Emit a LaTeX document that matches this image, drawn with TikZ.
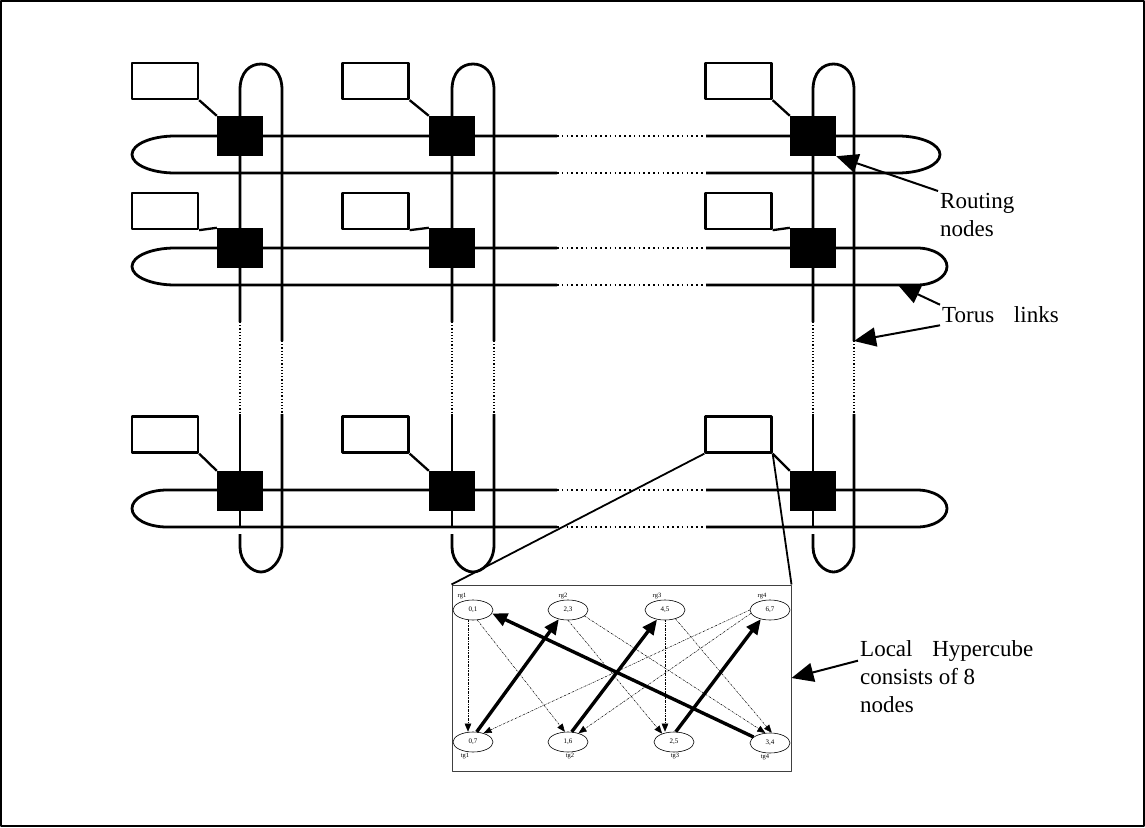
\documentclass[tikz,border=0pt]{standalone}
\usepackage{fontspec}
\setmainfont{Liberation Serif}
\usetikzlibrary{arrows.meta, shapes.geometric}

\tikzset{
  pe/.style={draw, line width=2.3pt, minimum width=66pt, minimum height=36pt, inner sep=0pt},
  router/.style={fill=black, minimum width=46pt, minimum height=40pt, inner sep=0pt},
  link/.style={line width=2.8pt},
  dots/.style={line width=2pt, dash pattern=on 1.6pt off 3.2pt},
  vdots/.style={line width=2pt, dash pattern=on 1.2pt off 2pt},
  hc/.style={ellipse, draw, line width=0.6pt, minimum width=40pt, minimum height=20pt, inner sep=0pt, font=\fontsize{7}{8}\selectfont},
  lab/.style={font=\fontsize{6.5}{7}\selectfont, inner sep=0.4pt},
  strong/.style={line width=3.4pt, -{Triangle[length=15pt,width=13pt]}},
  weak/.style={line width=0.5pt, dash pattern=on 2pt off 1pt on 0.5pt off 1pt, -{Triangle[length=8pt,width=6.5pt]}},
  note/.style={font=\fontsize{23}{28}\selectfont, align=left, inner sep=2pt},
  pointer/.style={line width=2pt, -{Triangle[length=22pt,width=19pt]}}
}

\begin{document}
\begin{tikzpicture}[x=1pt, y=-1pt, line join=round]
\useasboundingbox (0,0) rectangle (1145,827);
\draw[line width=1.5pt] (1,1) rectangle (1144,826);

% horizontal torus rings, each closed by a loop at both ends
\draw[link] (557,136) -- (175,136) arc[start angle=270, end angle=90, x radius=43, y radius=18.5] -- (557,173);
\draw[link] (706,136) -- (898,136) arc[start angle=-90, end angle=90, x radius=42, y radius=18.5] -- (706,173);
\draw[link] (557,248) -- (175,248) arc[start angle=270, end angle=90, x radius=43, y radius=18.5] -- (557,285);
\draw[link] (706,248) -- (917,248) arc[start angle=-90, end angle=90, x radius=30, y radius=18.5] -- (706,285);
\draw[link] (557,490) -- (167,490) arc[start angle=270, end angle=90, x radius=35, y radius=18.5] -- (557,527);
\draw[link] (706,490) -- (917,490) arc[start angle=-90, end angle=90, x radius=30, y radius=18.5] -- (706,527);
\foreach \y in {136,173,248,285,490,527}
  \draw[dots] (557,\y) -- (706,\y);

% vertical torus rings
\foreach \xi/\xm/\xo in {240/261/282, 452/473/494, 813/833.5/854} {
  \draw[link] (\xi,322) -- (\xi,90) .. controls (\xi,72) and (\xi+10,64) .. (\xm,64)
    .. controls (\xo-10,64) and (\xo,72) .. (\xo,90) -- (\xo,341);
  \draw[vdots] (\xi,322) -- (\xi,414);
  \draw[vdots] (\xo,341) -- (\xo,414);
  \draw[link] (\xi,414) -- (\xi,527);
  \draw[link] (\xi,534) -- (\xi,547) .. controls (\xi,562) and (\xm-9,572) .. (\xm,572)
    .. controls (\xm+9,572) and (\xo,562) .. (\xo,545) -- (\xo,414);
}

% routing nodes and their processing elements
\foreach \c/\x in {1/240,2/452,3/813}
  \foreach \r/\y in {1/136,2/248,3/491}
    \node[router] (r\c\r) at (\x,\y) {};
\foreach \c/\x in {1/165,2/375.5,3/738.5}
  \foreach \r/\y in {1/81,2/211,3/434.5}
    \node[pe] (p\c\r) at (\x,\y) {};
\foreach \c in {1,2,3}
  \foreach \r in {1,2,3}
    \draw[line width=2.3pt] (p\c\r.south east) -- (r\c\r.north west);

% local hypercube
\node[draw=black!75, line width=1pt, minimum width=339pt, minimum height=186pt, inner sep=0pt] (cube) at (621.5,678) {};
\draw[line width=1.8pt] (p33.south west) -- (cube.north west);
\draw[line width=1.8pt] (p33.south east) -- (cube.north east);

\node[hc, label={[lab, xshift=-11pt]above:rg1}] (t01) at (473,610) {0,1};
\node[hc, label={[lab, xshift=-5pt]above:rg2}] (t23) at (568,610) {2,3};
\node[hc, label={[lab, xshift=-8pt]above:rg3}] (t45) at (665,610) {4,5};
\node[hc, label={[lab, xshift=-8pt]above:rg4}] (t67) at (770,610) {6,7};
\node[hc, label={[lab, xshift=-8pt]below:tg1}] (b07) at (473,742) {0,7};
\node[hc, label={[lab, xshift=2pt]below:tg2}] (b16) at (568,742) {1,6};
\node[hc, label={[lab, xshift=1pt]below:tg3}] (b25) at (674,742) {2,5};
\node[hc, label={[lab, xshift=-5pt]below:tg4}] (b34) at (770,743) {3,4};

\draw[weak] ([xshift=-5pt]t01.south) -- ([xshift=-5pt]b07.north);
\draw[weak] (t01.-67) -- (b16.107);
\draw[weak] (t23.south) -- (b25.145);
\draw[weak] (t23.-20) -- (b34.115);
\draw[weak] (t45.south) -- (t45.south |- b25.north);
\draw[weak] (t45.-40) -- (b34.80);
\draw[weak] (t67.west) -- (b07.40);
\draw[weak] (t67.190) -- (b16.40);

\draw[strong] (b07.70) -- (t23.225);
\draw[strong] (b16.70) -- (t45.230);
\draw[strong] (b25.80) -- (t67.225);
\draw[strong] (b34.160) -- (t01.-10);

% labels
\node[note, anchor=north west] (rn) at (938,191) {Routing\\nodes};
\draw[pointer] (rn.north west) -- (r31.south east);

\coordinate (ta) at (898,285);
\coordinate (tb) at (854,341);
\node[note, anchor=west] (tl) at (940,315) {Torus\hspace{14pt} links};
\draw[pointer] (tl.north west) -- (ta);
\draw[pointer] (tl.south west) -- (tb);

\node[note, anchor=north west] (lh) at (858,638) {Local\hspace{14pt} Hypercube\\consists of 8\\nodes};
\draw[pointer] (lh.170) -- (cube.east);
\end{tikzpicture}
\end{document}
